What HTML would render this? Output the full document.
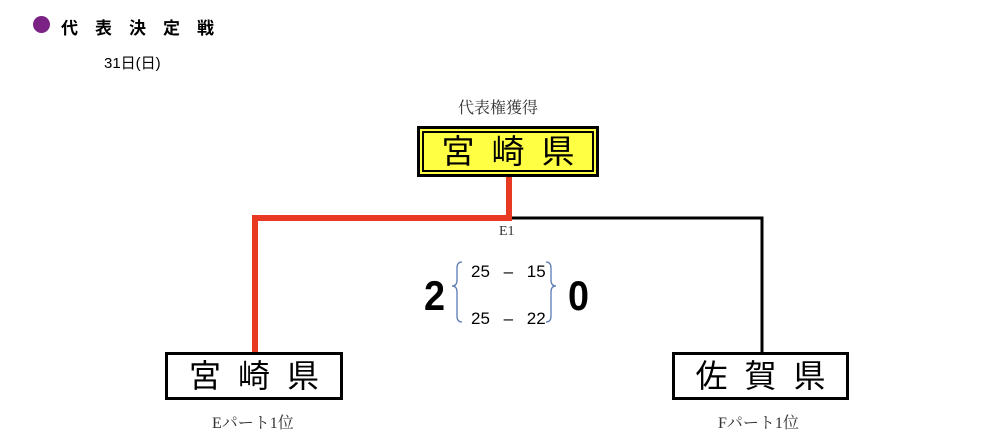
<!DOCTYPE html>
<html><head><meta charset="utf-8"><style>
body{margin:0;width:981px;height:439px;background:#fff;position:relative;overflow:hidden;font-family:"Liberation Sans","Noto Sans CJK JP",sans-serif}
.a{position:absolute}
.box{position:absolute;border:3px solid #000;box-sizing:border-box;background:#fff;font-size:32px;line-height:1;display:flex;align-items:center;justify-content:center;letter-spacing:17px;padding-left:17px}
.serif{font-family:"Liberation Serif","Noto Serif CJK SC",serif}
</style></head><body>
<div class="a" style="left:33px;top:16px;width:17px;height:17px;border-radius:50%;background:#7b2384"></div>
<div class="a" style="left:61px;top:14px;font-size:17px;letter-spacing:17px;font-weight:bold">代表決定戦</div>
<div class="a" style="left:104px;top:52px;font-size:15px">31日(日)</div>
<div class="a serif" style="left:458px;top:95px;font-size:16px;color:#333">代表権獲得</div>
<div class="a" style="left:417px;top:126px;width:182px;height:51px;border:3px solid #000;box-sizing:border-box;background:#ffff44"><div class="box" style="left:2px;top:2px;right:2px;bottom:2px;border-width:2px;background:#ffff44;font-size:33px">宮崎県</div></div>
<svg class="a" style="left:0;top:0" width="981" height="439">
<polyline points="509,218 762,218 762,353" fill="none" stroke="#000" stroke-width="3"/>
<polyline points="509,177 509,218 255,218 255,353" fill="none" stroke="#e83a22" stroke-width="6"/>
<path d="M462,262 q-5,0 -5,6 v12 q0,6 -5,6 q5,0 5,6 v24 q0,6 5,6" fill="none" stroke="#5b7bb5" stroke-width="1.3"/>
<path d="M546,262 q5,0 5,6 v12 q0,6 5,6 q-5,0 -5,6 v24 q0,6 -5,6" fill="none" stroke="#5b7bb5" stroke-width="1.3"/>
</svg>
<div class="a serif" style="left:499px;top:224px;font-size:14px;color:#333">E1</div>
<div class="a" style="left:424px;top:272px;font-size:42px;font-weight:bold;transform:scaleX(0.9);transform-origin:left">2</div>
<div class="a" style="left:568px;top:272px;font-size:42px;font-weight:bold;transform:scaleX(0.9);transform-origin:left">0</div>
<div class="a" style="left:471px;top:262px;font-size:17px;word-spacing:9px">25 – 15</div>
<div class="a" style="left:471px;top:309px;font-size:17px;word-spacing:9px">25 – 22</div>
<div class="box" style="left:165px;top:352px;width:178px;height:48px">宮崎県</div>
<div class="box" style="left:672px;top:352px;width:177px;height:48px">佐賀県</div>
<div class="a serif" style="left:212px;top:410px;font-size:16px;color:#333">Eパート1位</div>
<div class="a serif" style="left:718px;top:410px;font-size:16px;color:#333">Fパート1位</div>
</body></html>
